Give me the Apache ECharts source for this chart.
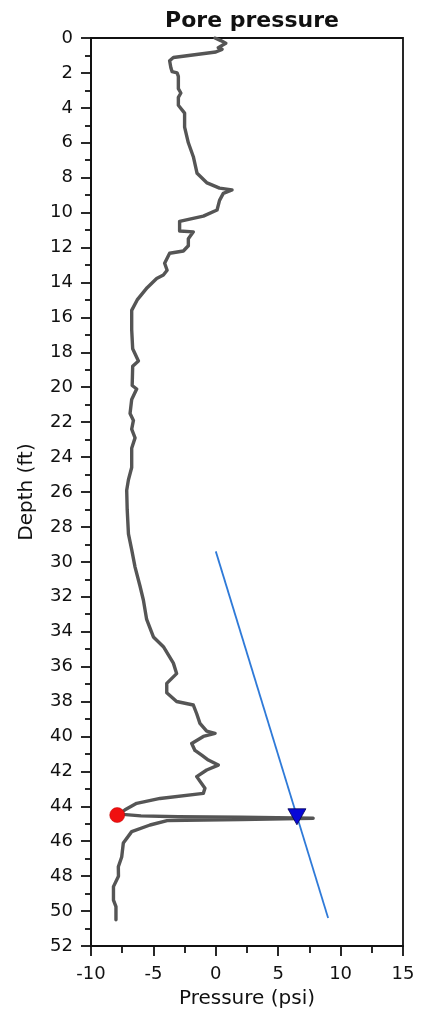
<!DOCTYPE html>
<html>
<head>
<meta charset="utf-8">
<title>Pore pressure</title>
<script src="https://cdn.jsdelivr.net/npm/echarts@6/dist/echarts.min.js"></script>
<style>
  html, body { margin: 0; padding: 0; background: #ffffff; }
  #chart { width: 435px; height: 1014px; }
</style>
</head>
<body>
<div id="chart"></div>
<script>
// Pore pressure profile: pressure (psi) against depth (ft)
const profilePressure = [
  -0.06, 0.4, 0.8, 0.9, 0.2, 0.5, 0.0, -0.1,
  -3.4, -3.7, -3.6, -3.5, -3.1, -3.0, -3.0, -2.8, -3.0, -3.0,
  -2.5, -2.5, -2.2, -1.8, -1.5, -0.7, 0.3, 1.3, 0.6, 0.3, 0.1,
  -1.0, -2.9, -2.9, -1.8, -2.2, -2.2, -2.6, -3.7, -4.1, -3.9, -4.2,
  -4.74, -5.5, -6.3, -6.74, -6.74, -6.66, -6.2, -6.66, -6.7, -6.34,
  -6.74, -6.87, -6.6, -6.74, -6.47, -6.74, -6.74, -7.0, -7.14, -7.1,
  -7.0, -6.74, -6.47, -6.07, -5.8, -5.54, -5.0, -4.2, -3.4, -3.14,
  -3.93, -3.93, -3.14, -1.8, -1.53, -1.27, -0.73, -0.06, -1.0, -1.93,
  -1.67, -1.13, -0.6, 0.2, -0.73, -1.53, -0.87, -1.0, -4.47, -6.34,
  -7.27, -7.7, -6.0, -3.0, 2.0, 7.8, 2.0, -3.9, -5.27, -6.74,
  -7.41, -7.54, -7.81, -7.8, -8.2, -8.2, -8.0, -8.0
];
const profileDepth = [
  0.0, 0.15, 0.3, 0.4, 0.55, 0.65, 0.8, 0.9,
  1.12, 1.3, 1.7, 1.93, 2.0, 2.2, 2.9, 3.15, 3.4, 3.85,
  4.3, 5.1, 6.0, 6.8, 7.75, 8.3, 8.6, 8.7, 8.9, 9.3, 9.85,
  10.2, 10.5, 11.05, 11.1, 11.5, 11.9, 12.2, 12.33, 12.9, 13.3, 13.57,
  13.77, 14.3, 15.0, 15.6, 16.7, 17.8, 18.5, 18.8, 19.9, 20.1,
  20.7, 21.5, 21.9, 22.4, 22.9, 23.5, 24.6, 25.3, 25.9, 27.0,
  28.4, 29.3, 30.3, 31.4, 32.2, 33.3, 34.3, 34.86, 35.8, 36.4,
  36.96, 37.5, 38.0, 38.2, 38.7, 39.25, 39.7, 39.82, 40.0, 40.4,
  40.8, 41.07, 41.35, 41.64, 41.92, 42.3, 42.97, 43.26, 43.55, 43.83,
  44.2, 44.45, 44.55, 44.6, 44.62, 44.68, 44.76, 44.82, 45.07, 45.45,
  46.1, 46.9, 47.46, 48.0, 48.6, 49.37, 49.75, 50.5
];

// Straight reference trend (pressure, depth) at its two ends
const trendPressure = [0, 9];
const trendDepth = [29.4, 50.4];

// Marked points
const minPoint = [-7.9, 44.5];
const crossPoint = [6.5, 44.6];

// Axis ranges and steps
const xRange = [-10, 15];
const xStep = 5;
const yRange = [0, 52];
const yStep = 2;

const pairs = (xs, ys) => xs.map((x, i) => [x, ys[i]]);

const font = 'DejaVu Sans, Verdana, sans-serif';
const ink = '#111111';
const chart = echarts.init(document.getElementById('chart'), null, { renderer: 'canvas' });

chart.setOption({
  backgroundColor: '#ffffff',
  animation: false,
  title: {
    text: 'Pore pressure',
    left: 247,
    top: 5,
    textAlign: 'center',
    textStyle: { fontFamily: font, fontWeight: 'bold', fontSize: 22, color: ink }
  },
  grid: {
    left: 91, top: 38, width: 312, height: 908,
    outerBoundsMode: 'none',
    show: true, borderColor: ink, borderWidth: 1.8, backgroundColor: 'transparent'
  },
  xAxis: {
    type: 'value',
    min: xRange[0], max: xRange[1], interval: xStep,
    position: 'bottom',
    name: 'Pressure (psi)',
    nameLocation: 'middle',
    nameGap: 43,
    nameTextStyle: { fontFamily: font, fontSize: 20, color: ink },
    axisLine: { show: true, onZero: false, lineStyle: { color: ink, width: 1.8 } },
    axisTick: { show: true, inside: false, length: 10, lineStyle: { color: ink, width: 1.8 } },
    minorTick: { show: true, splitNumber: 2, length: 7, lineStyle: { color: ink, width: 1.8 } },
    axisLabel: { fontFamily: font, fontSize: 18, color: ink, margin: 19 },
    splitLine: { show: false },
    minorSplitLine: { show: false }
  },
  yAxis: {
    type: 'value',
    inverse: true,
    min: yRange[0], max: yRange[1], interval: yStep,
    name: 'Depth (ft)',
    nameLocation: 'middle',
    nameRotate: 90,
    nameGap: 54,
    nameTextStyle: { fontFamily: font, fontSize: 20, color: ink },
    axisLine: { show: true, onZero: false, lineStyle: { color: ink, width: 1.8 } },
    axisTick: { show: true, inside: false, length: 10, lineStyle: { color: ink, width: 1.8 } },
    minorTick: { show: true, splitNumber: 2, length: 6, lineStyle: { color: ink, width: 1.8 } },
    axisLabel: { fontFamily: font, fontSize: 18, color: ink, margin: 18 },
    splitLine: { show: false },
    minorSplitLine: { show: false }
  },
  series: [
    {
      name: 'Pore pressure',
      type: 'line',
      data: pairs(profilePressure, profileDepth),
      showSymbol: false,
      smooth: false,
      lineStyle: { color: '#555555', width: 3.4, join: 'round', cap: 'round' },
      z: 3
    },
    {
      name: 'Trend',
      type: 'line',
      data: pairs(trendPressure, trendDepth),
      showSymbol: false,
      lineStyle: { color: '#2f7ad8', width: 1.8 },
      z: 2
    },
    {
      name: 'Minimum',
      type: 'scatter',
      data: [minPoint],
      symbol: 'circle',
      symbolSize: 15,
      itemStyle: { color: '#f01010', opacity: 1, borderColor: '#c00000', borderWidth: 0.5 },
      z: 5
    },
    {
      name: 'Crossing',
      type: 'scatter',
      data: [crossPoint],
      symbol: 'triangle',
      symbolRotate: 180,
      symbolSize: [18, 16],
      itemStyle: { color: '#0808d8', opacity: 1, borderColor: '#000050', borderWidth: 0.8 },
      z: 5
    }
  ]
});
</script>
</body>
</html>
